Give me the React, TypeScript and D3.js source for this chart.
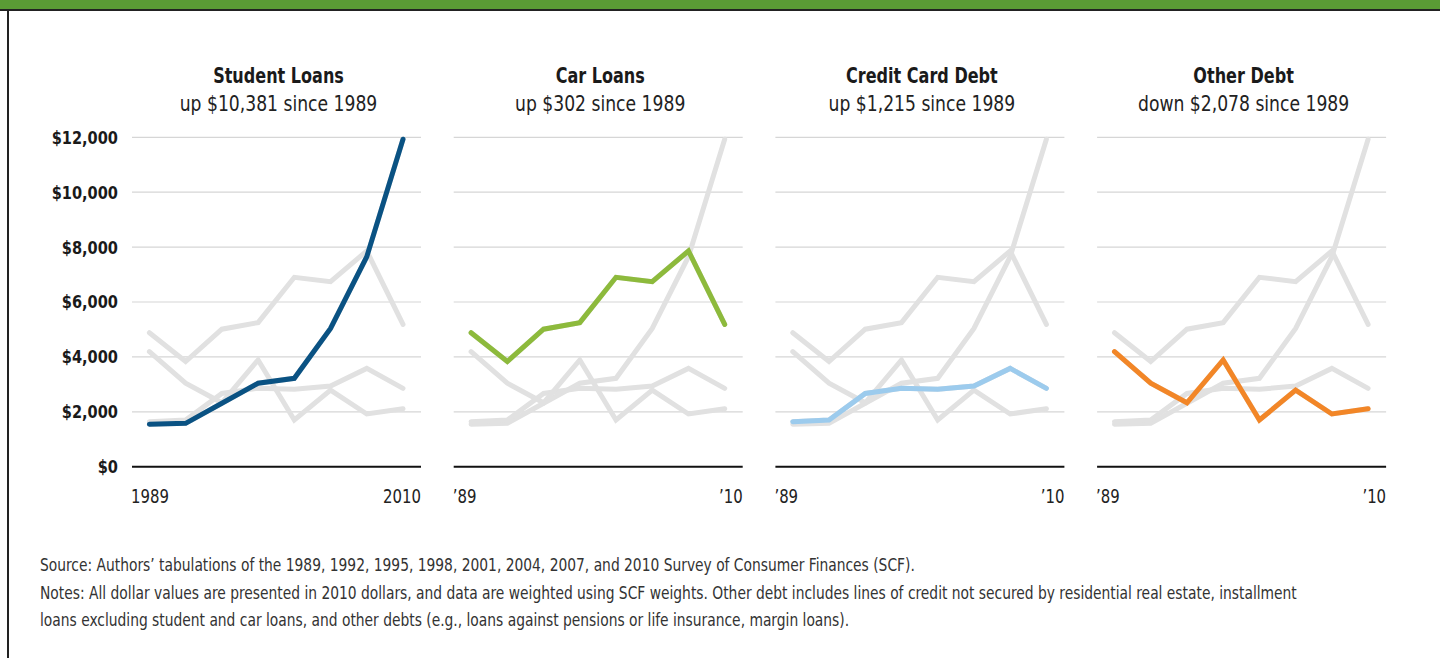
import React from "react";
import * as d3 from "d3";

const years = [1989, 1992, 1995, 1998, 2001, 2004, 2007, 2010];
const studentLoans = [1550, 1580, 2310, 3040, 3220, 5040, 7650, 11931];
const carLoans = [4880, 3830, 5010, 5250, 6900, 6740, 7860, 5182];
const creditCard = [1640, 1700, 2670, 2860, 2820, 2940, 3580, 2855];
const otherDebt = [4190, 3040, 2330, 3890, 1700, 2790, 1920, 2112];

const panelTitles = ["Student Loans", "Car Loans", "Credit Card Debt", "Other Debt"];
const panelSubtitles = [
  "up $10,381 since 1989",
  "up $302 since 1989",
  "up $1,215 since 1989",
  "down $2,078 since 1989",
];
const firstYearLabels = ["1989", "\u201989", "\u201989", "\u201989"];
const lastYearLabels = ["2010", "\u201910", "\u201910", "\u201910"];
const yTicks = [0, 2000, 4000, 6000, 8000, 10000, 12000];
const colors = ["#0a5283", "#8dba3c", "#9ccbed", "#f28627"];

const notes = [
  "Source: Authors\u2019 tabulations of the 1989, 1992, 1995, 1998, 2001, 2004, 2007, and 2010 Survey of Consumer Finances (SCF).",
  "Notes: All dollar values are presented in 2010 dollars, and data are weighted using SCF weights. Other debt includes lines of credit not secured by residential real estate, installment",
  "loans excluding student and car loans, and other debts (e.g., loans against pensions or life insurance, margin loans).",
];

const FONT = "'DejaVu Sans Condensed', 'DejaVu Sans', sans-serif";

type TProps = {
  x: number;
  y: number;
  sx: number;
  anchor?: "start" | "middle" | "end";
  size: number;
  bold?: boolean;
  fill?: string;
  dy?: string;
  children: React.ReactNode;
};

function CText({ x, y, sx, anchor = "start", size, bold, fill = "#222", dy, children }: TProps) {
  return (
    <text
      transform={`translate(${x},${y}) scale(${sx},1)`}
      textAnchor={anchor}
      fontSize={size}
      fontWeight={bold ? "bold" : "normal"}
      fill={fill}
      dy={dy}
    >
      {children}
    </text>
  );
}

export default function App() {
  const W = 1440;
  const H = 658;
  const series = [studentLoans, carLoans, creditCard, otherDebt];
  const panelW = 289;
  const panelStep = 321.7;
  const firstPanelX = 132;
  const y = d3.scaleLinear().domain([0, 12000]).range([466.7, 137.3]);
  const fmt = (v: number) => "$" + d3.format(",")(v);

  return (
    <svg
      width={W}
      height={H}
      style={{ position: "absolute", left: 0, top: 0, background: "#fff" }}
      fontFamily={FONT}
    >
      <rect x={0} y={0} width={W} height={9} fill="#5a9b35" />
      <rect x={0} y={9} width={W} height={2} fill="#222" />
      <rect x={7} y={9} width={2} height={H - 9} fill="#222" />

      {series.map((_, i) => {
        const x0 = firstPanelX + i * panelStep;
        const x = d3.scaleLinear().domain([1989, 2010]).range([x0 + 17.4, x0 + 271]);
        const line = d3
          .line<number>()
          .x((_, j) => x(years[j]))
          .y((d) => y(d));
        const cx = x0 + panelW / 2 + 2;
        return (
          <g key={i}>
            <CText x={cx} y={82.5} sx={0.85} anchor="middle" size={21} bold fill="#1a1a1a">
              {panelTitles[i]}
            </CText>
            <CText x={cx} y={111} sx={0.91} anchor="middle" size={21} fill="#222">
              {panelSubtitles[i]}
            </CText>
            {yTicks
              .filter((t) => t > 0)
              .map((t) => (
                <line
                  key={t}
                  x1={x0}
                  x2={x0 + panelW}
                  y1={y(t)}
                  y2={y(t)}
                  stroke="#d6d6d6"
                  strokeWidth={1.2}
                />
              ))}
            {series.map((s, k) => (
              <path
                key={k}
                d={line(s) || ""}
                fill="none"
                stroke="#e1e1e1"
                strokeWidth={5}
                strokeLinecap="round"
              />
            ))}
            <path
              d={line(series[i]) || ""}
              fill="none"
              stroke={colors[i]}
              strokeWidth={5}
              strokeLinecap="round"
            />
            <line x1={x0} x2={x0 + panelW} y1={y(0)} y2={y(0)} stroke="#111" strokeWidth={2} />
            <CText x={x0 - 1} y={503} sx={0.85} size={19.5} fill="#222">
              {firstYearLabels[i]}
            </CText>
            <CText x={x0 + panelW} y={503} sx={0.85} anchor="end" size={19.5} fill="#222">
              {lastYearLabels[i]}
            </CText>
          </g>
        );
      })}

      {yTicks.map((t) => (
        <CText key={t} x={118} y={y(t)} dy="0.36em" sx={0.9} anchor="end" size={18} bold fill="#1a1a1a">
          {fmt(t)}
        </CText>
      ))}

      {notes.map((n, i) => (
        <CText key={i} x={40} y={571 + i * 27.5} sx={0.905} size={17} fill="#333">
          {n}
        </CText>
      ))}
    </svg>
  );
}
